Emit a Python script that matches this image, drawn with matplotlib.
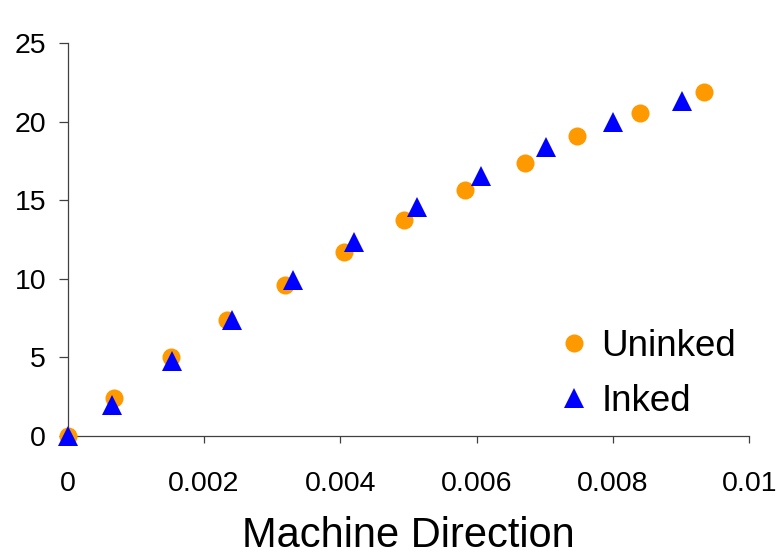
import matplotlib
matplotlib.use('Agg')
import matplotlib.pyplot as plt

# strain (machine direction) vs. load, uninked and inked samples
x_uninked = [0, 0.00068, 0.00152, 0.00234, 0.00319, 0.00406, 0.00494, 0.00583, 0.00671, 0.00747, 0.00840, 0.00934]
y_uninked = [0, 2.42, 5.02, 7.38, 9.63, 11.72, 13.71, 15.64, 17.39, 19.09, 20.52, 21.86]

x_inked = [0, 0.00065, 0.00153, 0.00241, 0.00330, 0.00420, 0.00513, 0.00607, 0.00702, 0.00800, 0.00901]
y_inked = [0, 1.96, 4.80, 7.41, 9.90, 12.33, 14.54, 16.52, 18.37, 19.96, 21.30]

xticks = [0, 0.002, 0.004, 0.006, 0.008, 0.01]
xticklabels = ['0', '0.002', '0.004', '0.006', '0.008', '0.01']
yticks = [0, 5, 10, 15, 20, 25]

plt.rcParams['font.family'] = ['Liberation Sans', 'DejaVu Sans']

fig = plt.figure(figsize=(7.76, 5.56), dpi=100)
ax = fig.add_axes([0.0872, 0.2158, 0.8784, 0.7069])

ax.plot(x_uninked, y_uninked, 'o', color='#FF9900', markersize=13, markeredgewidth=0,
        label='Uninked', clip_on=False, zorder=3)
ax.plot(x_inked, y_inked, '^', color='#0000FF', markersize=14, markeredgewidth=0,
        label='Inked', clip_on=False, zorder=4)

ax.set_xlim(0, 0.01)
ax.set_ylim(0, 25)
ax.set_xticks(xticks)
ax.set_xticklabels(xticklabels)
ax.set_yticks(yticks)

for s in ['top', 'right']:
    ax.spines[s].set_visible(False)
for s in ['left', 'bottom']:
    ax.spines[s].set_color('#404040')
    ax.spines[s].set_linewidth(0.9)

ax.tick_params(axis='y', direction='out', length=6.5, width=0.9, color='#404040',
               labelsize=20.5, pad=9)
ax.tick_params(axis='x', direction='out', length=5, width=0.9, color='#404040',
               labelsize=20.5, pad=20)

ax.set_xlabel('Machine Direction', fontsize=30, labelpad=14)

ax.legend(loc='upper left', bbox_to_anchor=(0.705, 0.31), frameon=False, fontsize=26.5,
          handlelength=0.6, handletextpad=0.45, labelspacing=0.55, borderaxespad=0)

fig.savefig('out.png', dpi=100)
